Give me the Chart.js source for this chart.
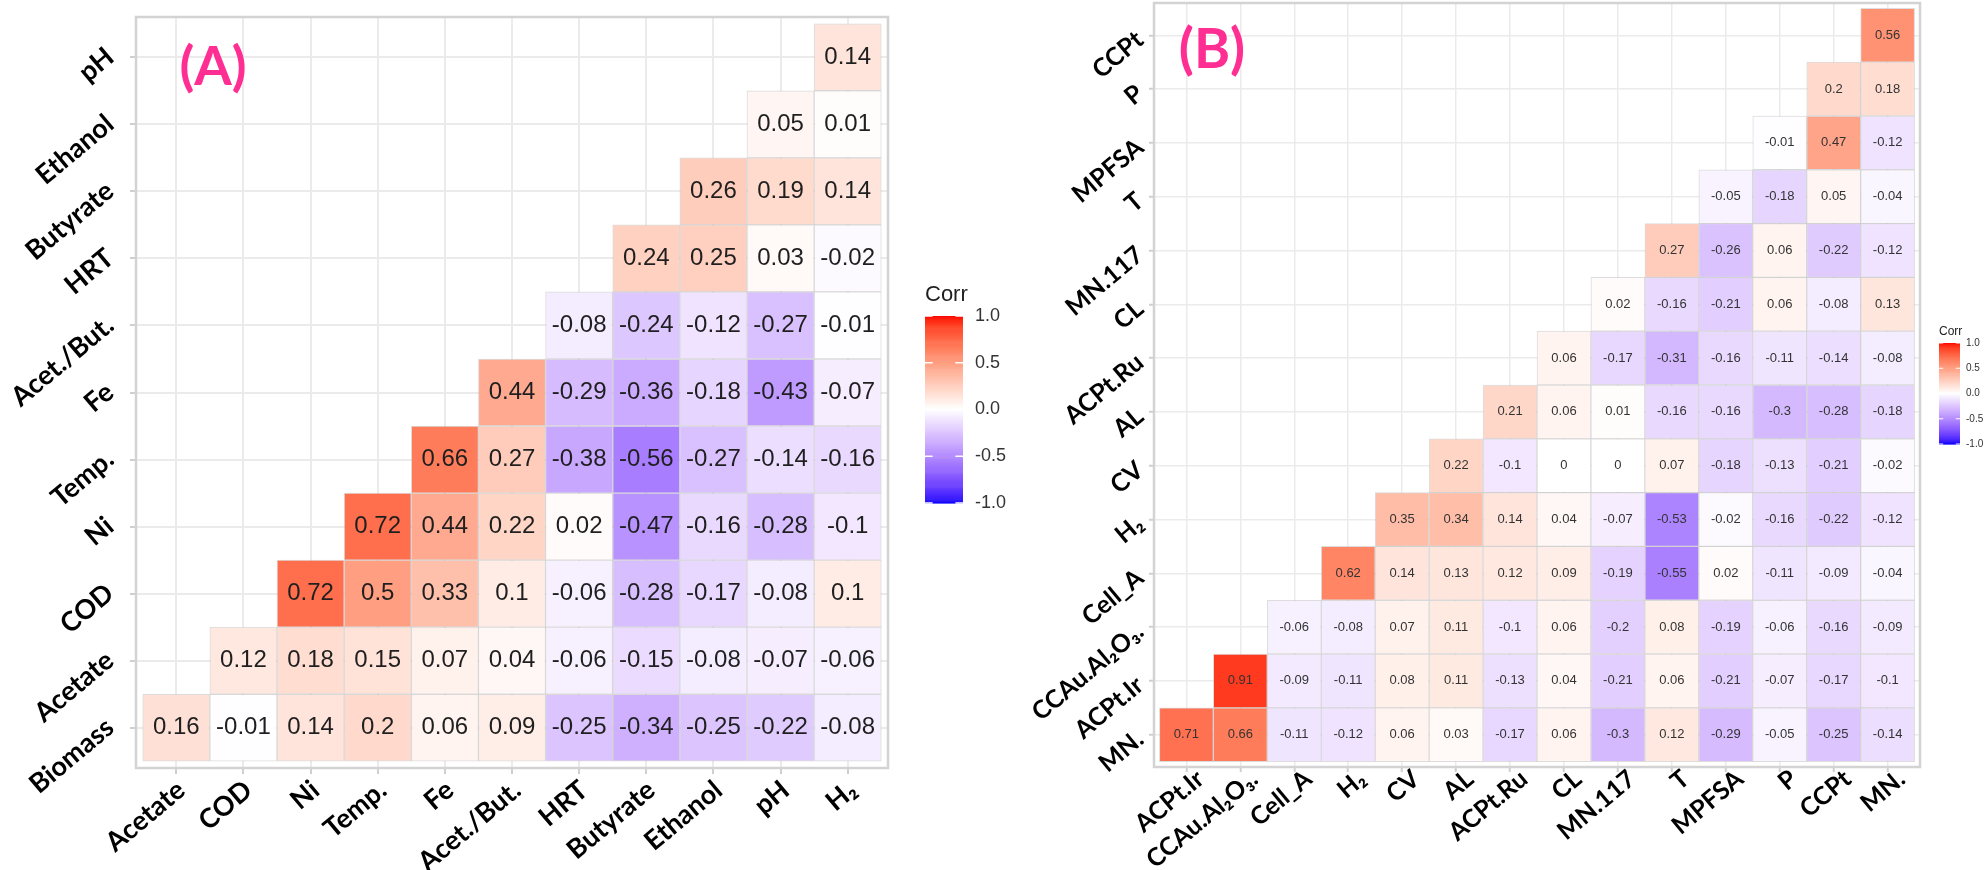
<!DOCTYPE html>
<html>
<head>
<meta charset="utf-8">
<script src="https://cdn.jsdelivr.net/npm/chart.js@4.4.1/dist/chart.umd.min.js"></script>
<style>
  html, body { margin: 0; padding: 0; background: #fff; }
  body { width: 1986px; height: 870px; position: relative; overflow: hidden; }
  canvas { position: absolute; top: 0; }
  #corrA { left: 0; }
  #corrB { left: 960px; }
</style>
</head>
<body>
<canvas id="corrA" width="1040" height="870"></canvas>
<canvas id="corrB" width="1026" height="870"></canvas>
<script>
// (A) process variables: columns left to right, rows bottom to top
const colsA = ['Acetate', 'COD', 'Ni', 'Temp.', 'Fe', 'Acet./But.', 'HRT', 'Butyrate', 'Ethanol', 'pH', 'H\u2082'];
const rowsA = ['Biomass', 'Acetate', 'COD', 'Ni', 'Temp.', 'Fe', 'Acet./But.', 'HRT', 'Butyrate', 'Ethanol', 'pH'];
// row r holds the coefficients for columns r .. end
const corrA = [
  [0.16, -0.01, 0.14, 0.2, 0.06, 0.09, -0.25, -0.34, -0.25, -0.22, -0.08],
  [0.12, 0.18, 0.15, 0.07, 0.04, -0.06, -0.15, -0.08, -0.07, -0.06],
  [0.72, 0.5, 0.33, 0.1, -0.06, -0.28, -0.17, -0.08, 0.1],
  [0.72, 0.44, 0.22, 0.02, -0.47, -0.16, -0.28, -0.1],
  [0.66, 0.27, -0.38, -0.56, -0.27, -0.14, -0.16],
  [0.44, -0.29, -0.36, -0.18, -0.43, -0.07],
  [-0.08, -0.24, -0.12, -0.27, -0.01],
  [0.24, 0.25, 0.03, -0.02],
  [0.26, 0.19, 0.14],
  [0.05, 0.01],
  [0.14]
];

// (B) catalyst / cell variables
const colsB = ['ACPt.Ir', 'CCAu.Al\u2082O\u2083.', 'Cell_A', 'H\u2082', 'CV', 'AL', 'ACPt.Ru', 'CL', 'MN.117', 'T', 'MPFSA', 'P', 'CCPt', 'MN.'];
const rowsB = ['MN.', 'ACPt.Ir', 'CCAu.Al\u2082O\u2083.', 'Cell_A', 'H\u2082', 'CV', 'AL', 'ACPt.Ru', 'CL', 'MN.117', 'T', 'MPFSA', 'P', 'CCPt'];
const corrB = [
  [0.71, 0.66, -0.11, -0.12, 0.06, 0.03, -0.17, 0.06, -0.3, 0.12, -0.29, -0.05, -0.25, -0.14],
  [0.91, -0.09, -0.11, 0.08, 0.11, -0.13, 0.04, -0.21, 0.06, -0.21, -0.07, -0.17, -0.1],
  [-0.06, -0.08, 0.07, 0.11, -0.1, 0.06, -0.2, 0.08, -0.19, -0.06, -0.16, -0.09],
  [0.62, 0.14, 0.13, 0.12, 0.09, -0.19, -0.55, 0.02, -0.11, -0.09, -0.04],
  [0.35, 0.34, 0.14, 0.04, -0.07, -0.53, -0.02, -0.16, -0.22, -0.12],
  [0.22, -0.1, 0, 0, 0.07, -0.18, -0.13, -0.21, -0.02],
  [0.21, 0.06, 0.01, -0.16, -0.16, -0.3, -0.28, -0.18],
  [0.06, -0.17, -0.31, -0.16, -0.11, -0.14, -0.08],
  [0.02, -0.16, -0.21, 0.06, -0.08, 0.13],
  [0.27, -0.26, 0.06, -0.22, -0.12],
  [-0.05, -0.18, 0.05, -0.04],
  [-0.01, 0.47, -0.12],
  [0.2, 0.18],
  [0.56]
];

const legendTicks = [1.0, 0.5, 0.0, -0.5, -1.0];

// --- blue / white / red ramp interpolated in CIELAB ---
function toLin(c) { c /= 255; return c <= 0.04045 ? c / 12.92 : Math.pow((c + 0.055) / 1.055, 2.4); }
function fromLin(v) {
  v = v <= 0.0031308 ? 12.92 * v : 1.055 * Math.pow(v, 1 / 2.4) - 0.055;
  return Math.round(Math.max(0, Math.min(1, v)) * 255);
}
const D = 6 / 29;
function f(t) { return t > D * D * D ? Math.cbrt(t) : t / (3 * D * D) + 4 / 29; }
function finv(t) { return t > D ? t * t * t : 3 * D * D * (t - 4 / 29); }
function rgbToLab([r, g, b]) {
  r = toLin(r); g = toLin(g); b = toLin(b);
  const X = (0.4124564 * r + 0.3575761 * g + 0.1804375 * b) / 0.95047;
  const Y = 0.2126729 * r + 0.7151522 * g + 0.0721750 * b;
  const Z = (0.0193339 * r + 0.1191920 * g + 0.9503041 * b) / 1.08883;
  return [116 * f(Y) - 16, 500 * (f(X) - f(Y)), 200 * (f(Y) - f(Z))];
}
function labToRgb([L, a, b]) {
  const fy = (L + 16) / 116, fx = fy + a / 500, fz = fy - b / 200;
  const X = finv(fx) * 0.95047, Y = finv(fy), Z = finv(fz) * 1.08883;
  const r = 3.2404542 * X - 1.5371385 * Y - 0.4985314 * Z;
  const g = -0.9692660 * X + 1.8760108 * Y + 0.0415560 * Z;
  const bb = 0.0556434 * X - 0.2040259 * Y + 1.0572252 * Z;
  return [fromLin(r), fromLin(g), fromLin(bb)];
}
const labLow = rgbToLab([0, 0, 255]);
const labMid = rgbToLab([255, 255, 255]);
const labHigh = rgbToLab([255, 0, 0]);
function corrColor(v) {
  const end = v >= 0 ? labHigh : labLow;
  const t = Math.min(1, Math.abs(v));
  const lab = labMid.map((m, i) => m + (end[i] - m) * t);
  const [r, g, b] = labToRgb(lab);
  return `rgb(${r},${g},${b})`;
}

// prints each coefficient in the middle of its tile
const cellText = {
  id: 'cellText',
  afterDatasetsDraw(chart, args, opts) {
    const ctx = chart.ctx;
    ctx.save();
    ctx.font = opts.font;
    ctx.fillStyle = opts.color;
    ctx.textAlign = 'center';
    ctx.textBaseline = 'middle';
    chart.data.datasets.forEach((ds, i) => {
      chart.getDatasetMeta(i).data.forEach((bar, j) => {
        const p = bar.getProps(['x', 'y', 'base'], true);
        ctx.fillText(String(ds.data[j].v), p.x, (p.y + p.base) / 2);
      });
    });
    ctx.restore();
  }
};

// panel frame, colour bar legend and panel tag
const decor = {
  id: 'decor',
  afterDraw(chart, args, o) {
    const ctx = chart.ctx;
    const a = chart.chartArea;
    ctx.save();
    ctx.strokeStyle = '#d3d3d3';
    ctx.lineWidth = o.frameWidth;
    ctx.strokeRect(a.left, a.top, a.right - a.left, a.bottom - a.top);

    const lg = o.legend;
    ctx.fillStyle = '#1e1e1e';
    ctx.font = lg.titleFont;
    ctx.textAlign = 'left';
    ctx.textBaseline = 'alphabetic';
    ctx.fillText('Corr', lg.x, lg.titleY);
    const steps = 200;
    for (let s = 0; s < steps; s++) {
      const v = 1 - 2 * (s + 0.5) / steps;
      ctx.fillStyle = corrColor(v);
      ctx.fillRect(lg.x, lg.top + s * lg.h / steps, lg.w, lg.h / steps + 0.6);
    }
    ctx.font = lg.labelFont;
    ctx.textBaseline = 'middle';
    legendTicks.forEach(v => {
      const y = lg.top + (1 - v) / 2 * lg.h;
      ctx.strokeStyle = '#ffffff';
      ctx.lineWidth = lg.tickWidth;
      ctx.beginPath();
      ctx.moveTo(lg.x, y); ctx.lineTo(lg.x + lg.w / 5, y);
      ctx.moveTo(lg.x + lg.w * 4 / 5, y); ctx.lineTo(lg.x + lg.w, y);
      ctx.stroke();
      ctx.fillStyle = '#333';
      ctx.fillText(v.toFixed(1), lg.labelX, y);
    });

    const tag = o.tag;
    ctx.fillStyle = '#ff2e93';
    ctx.font = tag.font;
    ctx.textAlign = 'center';
    ctx.textBaseline = 'alphabetic';
    ctx.fillText(tag.text, tag.x, tag.y);
    ctx.restore();
  }
};

function makePanel(id, cols, rows, corr, st) {
  const datasets = corr.map((row, r) => ({
    data: row.map((v, k) => ({ x: r + k, y: [r - 0.5, r + 0.5], v })),
    backgroundColor: c => (c.raw ? corrColor(c.raw.v) : '#fff'),
    borderColor: 'rgba(180,180,180,0.45)',
    borderWidth: 1,
    borderSkipped: false,
    grouped: false,
    barPercentage: 1,
    categoryPercentage: 1
  }));
  const tickFont = { family: 'Lato, "Open Sans", sans-serif', weight: 'bold', size: st.tickSize };
  const grid = { color: '#ebebeb', lineWidth: st.gridWidth, tickColor: '#cfcfcf', tickWidth: 2, tickLength: st.tickLength, offset: false, drawTicks: true };
  return new Chart(document.getElementById(id), {
    type: 'bar',
    data: { datasets },
    options: {
      responsive: false,
      animation: false,
      devicePixelRatio: 1,
      layout: { padding: st.padding },
      plugins: {
        legend: { display: false },
        tooltip: { enabled: false },
        cellText: { font: st.valueFont, color: st.valueColor },
        decor: { frameWidth: 2.5, legend: st.legend, tag: st.tag }
      },
      scales: {
        x: {
          type: 'linear',
          offset: false,
          min: -0.6,
          max: cols.length - 0.4,
          grid,
          border: { display: false },
          afterBuildTicks: s => { s.ticks = cols.map((_, i) => ({ value: i })); },
          afterFit: s => { s.height = st.xHeight; s.paddingLeft = 0; s.paddingRight = 0; },
          ticks: {
            autoSkip: false,
            minRotation: 40,
            maxRotation: 40,
            padding: st.xPad,
            labelOffset: st.xLabelOffset,
            color: '#000',
            font: tickFont,
            callback: v => cols[v]
          }
        },
        y: {
          type: 'linear',
          min: -0.6,
          max: rows.length - 0.4,
          grid,
          border: { display: false },
          afterBuildTicks: s => { s.ticks = rows.map((_, i) => ({ value: i })); },
          afterFit: s => { s.width = st.yWidth; s.paddingTop = 0; s.paddingBottom = 0; },
          ticks: {
            autoSkip: false,
            minRotation: 40,
            maxRotation: 40,
            padding: st.yPad,
            labelOffset: st.yLabelOffset,
            color: '#000',
            font: tickFont,
            callback: v => rows[v]
          }
        }
      }
    },
    plugins: [cellText, decor]
  });
}

makePanel('corrA', colsA, rowsA, corrA, {
  padding: { top: 17, right: 152, bottom: 0, left: 0 },
  yWidth: 136, xHeight: 102,
  tickSize: 27, tickLength: 6, gridWidth: 2,
  xPad: 0, xLabelOffset: 5, yPad: 20, yLabelOffset: -4,
  valueFont: '24px "Liberation Sans", Arial, sans-serif', valueColor: '#1f1f1f',
  legend: { x: 925, top: 316, w: 38, h: 187, titleY: 301, labelX: 975,
            titleFont: '22px "Liberation Sans", Arial, sans-serif',
            labelFont: '18px "Liberation Sans", Arial, sans-serif', tickWidth: 1.5 },
  tag: { text: '(A)', x: 213, y: 85, font: 'bold 54px Lato, sans-serif' }
});

makePanel('corrB', colsB, rowsB, corrB, {
  padding: { top: 3, right: 66, bottom: 0, left: 0 },
  yWidth: 194, xHeight: 103,
  tickSize: 25, tickLength: 5, gridWidth: 1.5,
  xPad: -8, xLabelOffset: 14, yPad: 9, yLabelOffset: 1,
  valueFont: '13px "Liberation Sans", Arial, sans-serif', valueColor: '#333',
  legend: { x: 979, top: 343, w: 21, h: 101, titleY: 335, labelX: 1006,
            titleFont: '12px "Liberation Sans", Arial, sans-serif',
            labelFont: '10px "Liberation Sans", Arial, sans-serif', tickWidth: 1 },
  tag: { text: '(B)', x: 252, y: 68, font: 'bold 55px Lato, sans-serif' }
});
</script>
</body>
</html>
